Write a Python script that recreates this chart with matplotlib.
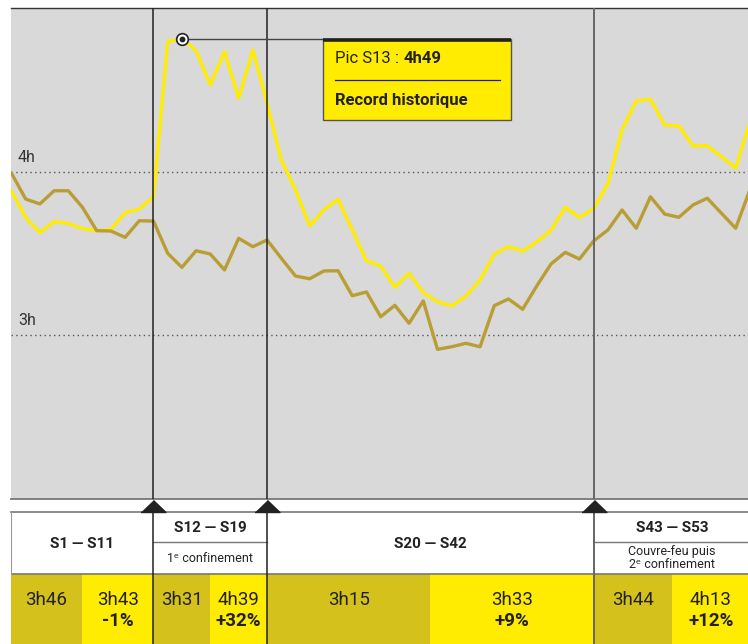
import numpy as np
import matplotlib
matplotlib.use("Agg")
import matplotlib.pyplot as plt
from matplotlib.patches import Rectangle
from matplotlib.transforms import blended_transform_factory

plt.rcParams['font.family'] = ['Roboto', 'DejaVu Sans']

# weekly average daily TV time, in hours
weeks = np.arange(1, 54)
hours_2020 = [3.885, 3.720, 3.628, 3.695, 3.685, 3.652, 3.640, 3.648, 3.750, 3.773,
              3.847, 4.800, 4.817, 4.744, 4.534, 4.738, 4.452, 4.748, 4.421, 4.074,
              3.890, 3.669, 3.767, 3.834, 3.644, 3.456, 3.423, 3.293, 3.379, 3.260,
              3.204, 3.178, 3.239, 3.337, 3.495, 3.542, 3.515, 3.571, 3.644, 3.783,
              3.720, 3.775, 3.926, 4.258, 4.437, 4.446, 4.288, 4.282, 4.161, 4.161,
              4.094, 4.023, 4.307]
hours_2019 = [3.992, 3.834, 3.804, 3.885, 3.885, 3.783, 3.640, 3.638, 3.599, 3.701,
              3.699, 3.501, 3.415, 3.517, 3.497, 3.399, 3.593, 3.542, 3.583, 3.471,
              3.362, 3.345, 3.393, 3.394, 3.241, 3.264, 3.112, 3.182, 3.072, 3.209,
              2.912, 2.928, 2.949, 2.928, 3.180, 3.221, 3.158, 3.302, 3.436, 3.507,
              3.466, 3.577, 3.644, 3.767, 3.655, 3.848, 3.742, 3.722, 3.798, 3.839,
              3.747, 3.655, 3.890]

peak_week = 13
peak_text = "4h49"

y_ticks = [3, 4]
y_labels = ["3h", "4h"]

# periods of the year and the averages shown underneath
period_ends = [11, 19, 42, 53]
period_names = ["S1 — S11", "S12 — S19", "S20 — S42", "S43 — S53"]
period_notes = ["", "1ᵉ confinement", "", "Couvre-feu puis\n2ᵉ confinement"]
avg_2019 = ["3h46", "3h31", "3h15", "3h44"]
avg_2020 = ["3h43", "4h39", "3h33", "4h13"]
change = ["-1%", "+32%", "+9%", "+12%"]

GREY_BG = '#d9d9d9'
YELLOW = '#ffec00'
GOLD = '#b99d35'
DARK_CELL = '#d5c11b'
INK = '#222222'

W, H = 748, 644


def box(x0, y0, x1, y1):
    return [x0 / W, 1 - y1 / H, (x1 - x0) / W, (y1 - y0) / H]


fig = plt.figure(figsize=(W / 100, H / 100), dpi=100)

ax = fig.add_axes(box(10.5, 8, 748, 499))
ax.set_facecolor(GREY_BG)
ax.set_xlim(0.93, 52.87)
ax.set_ylim(1.994, 5.006)
ax.set_xticks([])
ax.set_yticks([])
for s in ['left', 'right']:
    ax.spines[s].set_visible(False)
ax.spines['top'].set_color('#333333')
ax.spines['top'].set_linewidth(1.0)
ax.spines['bottom'].set_color('#777777')
ax.spines['bottom'].set_linewidth(1.3)

# dotted hour lines + labels
for v, lab in zip(y_ticks, y_labels):
    ax.axhline(v, color='#555555', lw=1.0, dashes=(1, 2.4), zorder=1)
    ax.annotate(lab, xy=(0, v), xycoords=('axes fraction', 'data'),
                xytext=(5.4, 7), textcoords='offset points', va='baseline',
                fontsize=11.5, color='#333333')

# period separators
for i, w in enumerate(period_ends[:-1]):
    c = '#666666' if i == 2 else INK
    ax.axvline(w, color=c, lw=1.1 if i < 2 else 1.4, zorder=4)

ax.plot(weeks, hours_2020, color=YELLOW, lw=2.4, zorder=3)
ax.plot(weeks, hours_2019, color=GOLD, lw=2.4, zorder=3)

# peak annotation
peak = hours_2020[peak_week - 1]
bx0, bx1 = 22.94, 36.18
by0 = peak - 0.498
ax.plot([peak_week, bx0], [peak, peak], color='#444444', lw=1.0, zorder=5)
ax.add_patch(Rectangle((bx0, by0), bx1 - bx0, peak - by0, fc=YELLOW,
                       ec='#555555', lw=1.0, zorder=5))
ax.plot([bx0, bx1], [peak - 0.007] * 2, color=INK, lw=2.6,
        solid_capstyle='butt', zorder=6)
ax.plot([23.78, 35.4], [peak - 0.253] * 2, color=INK, lw=0.9, zorder=6)
t1 = ax.text(23.78, peak - 0.118, f"Pic S{peak_week} :", fontsize=12,
             color=INK, va='center', ha='left', zorder=7)
ax.annotate(peak_text, xy=(1, 0.5), xycoords=t1, xytext=(3, 0),
            textcoords='offset points', va='center', ha='left',
            fontsize=12, fontweight='bold', color=INK, zorder=7)
ax.text(23.78, peak - 0.381, "Record historique", fontsize=12,
        fontweight='bold', color=INK, va='center', ha='left', zorder=7)

ax.plot(peak_week, peak, 'o', ms=8.4, mfc='white', mec=INK, mew=1.2, zorder=8)
ax.plot(peak_week, peak, 'o', ms=3.2, color=INK, zorder=9)

# summary table below, sharing the week scale
tb = fig.add_axes(box(10.5, 499, 748, 644), sharex=ax)
tb.set_ylim(145, 0)
tb.axis('off')

edges = [ax.get_xlim()[0]] + period_ends
tb.plot([edges[0], edges[-1]], [13, 13], color='#777777', lw=1.2, clip_on=False)
tb.plot([edges[0], edges[-1]], [74.5, 74.5], color='#777777', lw=1.2)
tb.plot([edges[0], edges[0]], [13, 75], color='#999999', lw=0.8)

for i in range(4):
    x0, x1 = edges[i], edges[i + 1]
    xm = (x0 + x1) / 2
    tb.add_patch(Rectangle((x0, 75), xm - x0, 70, color=DARK_CELL, lw=0))
    tb.add_patch(Rectangle((xm, 75), x1 - xm, 70, color=YELLOW, lw=0))
    tb.text((x0 + xm) / 2, 101, avg_2019[i], ha='center', va='center',
            fontsize=13.5, color=INK)
    tb.text((xm + x1) / 2, 101, avg_2020[i], ha='center', va='center',
            fontsize=13.5, color=INK)
    tb.text((xm + x1) / 2, 122, change[i], ha='center', va='center',
            fontsize=13.5, fontweight='bold', color=INK)
    if period_notes[i]:
        tb.text((x0 + x1) / 2, 29, period_names[i], ha='center', va='center',
                fontsize=11, fontweight='bold', color=INK)
        tb.plot([x0, x1], [42.7, 42.7], color='#777777', lw=1.0)
        tb.text((x0 + x1) / 2, 59, period_notes[i], ha='center', va='center',
                fontsize=9, color=INK, linespacing=0.95)
    else:
        tb.text((x0 + x1) / 2, 45, period_names[i], ha='center', va='center',
                fontsize=11, fontweight='bold', color=INK)

for i, w in enumerate(period_ends[:-1]):
    c = '#666666' if i == 2 else INK
    tb.plot([w, w], [13, 145], color=c, lw=1.1 if i < 2 else 1.4, zorder=4)
    tb.plot(w, 13, marker=[(-1, 0), (1, 0), (0, 0.96)], ms=18, color=INK,
            zorder=5, clip_on=False)

fig.savefig('out.png', dpi=100)
